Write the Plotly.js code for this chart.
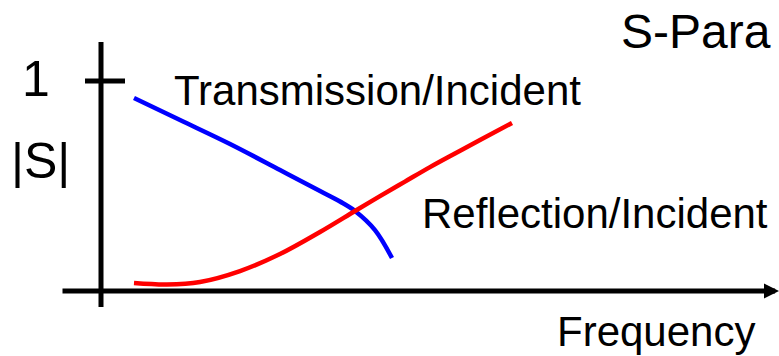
<!DOCTYPE html>
<html>
<head>
<meta charset="utf-8">
<script src="https://cdn.plot.ly/plotly-3.0.1.min.js"></script>
<style>html,body{margin:0;padding:0;background:#fff;}#chart{width:779px;height:356px;}</style>
</head>
<body>
<div id="chart"></div>
<script>
// Transmission/Incident (blue) — frequency (arbitrary units) vs |S|
const transFreq = [0.33, 0.79, 1.29, 1.79, 2.19, 2.39, 2.54, 2.74, 2.91];
const transMag  = [0.919, 0.814, 0.700, 0.576, 0.476, 0.426, 0.381, 0.290, 0.157];
// Reflection/Incident (red)
const reflFreq = [0.33, 0.66, 0.99, 1.39, 1.79, 2.19, 2.54, 2.79, 3.04, 3.29, 3.54, 3.79, 4.11];
const reflMag  = [0.038, 0.031, 0.043, 0.095, 0.176, 0.281, 0.381, 0.452, 0.521, 0.590, 0.655, 0.719, 0.800];
const yTickVals = [1];
const yTickText = ["1"];
const labels = {
  title: "S-Para",
  yLabel: "|S|",
  xLabel: "Frequency",
  trans: "Transmission/Incident",
  refl: "Reflection/Incident"
};

const FONT = "Liberation Sans, Arial, sans-serif";
const W = 779, H = 356;
const px = (x) => x / W;
const py = (y) => 1 - y / H;

const traces = [
  { x: transFreq, y: transMag, mode: "lines", line: { color: "#0000ff", width: 4.5, shape: "spline", smoothing: 1 }, hoverinfo: "skip" },
  { x: reflFreq, y: reflMag, mode: "lines", line: { color: "#ff0000", width: 4.5, shape: "spline", smoothing: 1 }, hoverinfo: "skip" }
];

const layout = {
  width: W, height: H,
  margin: { l: 0, r: 0, t: 0, b: 0 },
  paper_bgcolor: "#ffffff", plot_bgcolor: "#ffffff",
  showlegend: false,
  xaxis: { range: [-1.01, 6.78], visible: false, fixedrange: true },
  yaxis: { range: [-0.3095, 1.3857], visible: false, fixedrange: true },
  shapes: [
    // vertical axis
    { type: "line", xref: "x", yref: "y", x0: 0, x1: 0, y0: -0.076, y1: 1.186, line: { color: "#000", width: 5 } },
    // tick at 1
    { type: "line", xref: "x", yref: "y", x0: -0.16, x1: 0.24, y0: yTickVals[0], y1: yTickVals[0], line: { color: "#000", width: 5 } }
  ],
  annotations: [
    // horizontal axis with arrow
    { x: 6.78, y: 0, ax: -0.4, ay: 0, xref: "x", yref: "y", axref: "x", ayref: "y", text: "", showarrow: true,
      arrowhead: 2, arrowsize: 0.6, arrowwidth: 5, arrowcolor: "#000", standoff: 0 },
    { x: px(36), y: py(79), xref: "paper", yref: "paper", text: yTickText[0], showarrow: false, xanchor: "center", yanchor: "middle", font: { family: FONT, size: 50, color: "#000" } },
    { x: px(40), y: py(161), xref: "paper", yref: "paper", text: labels.yLabel, showarrow: false, xanchor: "center", yanchor: "middle", font: { family: FONT, size: 50, color: "#000" } },
    { x: px(377), y: py(90), xref: "paper", yref: "paper", text: labels.trans, showarrow: false, xanchor: "center", yanchor: "middle", font: { family: FONT, size: 42, color: "#000" } },
    { x: px(595), y: py(213), xref: "paper", yref: "paper", text: labels.refl, showarrow: false, xanchor: "center", yanchor: "middle", font: { family: FONT, size: 42, color: "#000" } },
    { x: px(696), y: py(31), xref: "paper", yref: "paper", text: labels.title, showarrow: false, xanchor: "center", yanchor: "middle", font: { family: FONT, size: 48, color: "#000" } },
    { x: px(656), y: py(331), xref: "paper", yref: "paper", text: labels.xLabel, showarrow: false, xanchor: "center", yanchor: "middle", font: { family: FONT, size: 42, color: "#000" } }
  ]
};

Plotly.newPlot("chart", traces, layout, { staticPlot: true, displayModeBar: false });
</script>
</body>
</html>
